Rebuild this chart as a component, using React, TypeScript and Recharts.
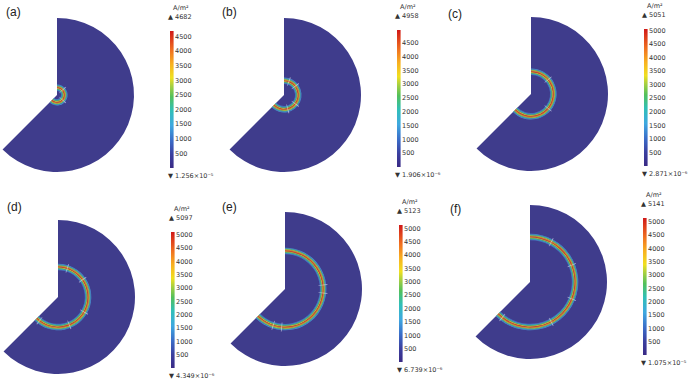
import { PieChart, Pie, BarChart, Bar, XAxis, YAxis } from "recharts"

// six snapshots of the current density front
const panelLabels = ["(a)", "(b)", "(c)", "(d)", "(e)", "(f)"]
const maxValues = [4682, 4958, 5051, 5097, 5123, 5141]
const minLabels = ["1.256×10⁻⁵", "1.906×10⁻⁶", "2.871×10⁻⁶", "4.349×10⁻⁶", "6.739×10⁻⁶", "1.075×10⁻⁵"]
const ticksLow = [500, 1000, 1500, 2000, 2500, 3000, 3500, 4000, 4500]
const ticksHigh = [500, 1000, 1500, 2000, 2500, 3000, 3500, 4000, 4500, 5000]
const barTicks = [ticksLow, ticksLow, ticksHigh, ticksHigh, ticksHigh, ticksHigh]
// front position as fraction of the domain radius
const frontRadius = [0.095, 0.185, 0.29, 0.39, 0.495, 0.585]
// mesh marks crossing the front (degrees)
const markAngles = [
  [42, -42],
  [38, -38, 70, -75],
  [40, -40],
  [72, 35, -30, -68, -128],
  [6, -6, -95, -108],
  [62, 22, -22, -62, -128],
]

const diskColor = "#3f3c8c"
const ringColors = ["#4a6fc0", "#37b5c8", "#5cc06a", "#d8d428", "#e8381c", "#f09020", "#b8d030", "#3cbfa8", "#4a8fd0"]
const cbStops: [number, string][] = [
  [0, "#3a2a85"],
  [0.1, "#3b40a0"],
  [0.2, "#3a6cc8"],
  [0.31, "#3fa8e0"],
  [0.42, "#30bfb8"],
  [0.52, "#52c05a"],
  [0.6, "#a8d040"],
  [0.66, "#f0e020"],
  [0.76, "#f8b020"],
  [0.86, "#f07020"],
  [1, "#d01818"],
]

const R = 77
const START = 90
const END = -135

const layout = [
  { lx: 6, ly: 13, cx: 57, cy: 95, bx: 170, bt: 31, bb: 168 },
  { lx: 222, ly: 13, cx: 284, cy: 95, bx: 397, bt: 30, bb: 167 },
  { lx: 448, ly: 15, cx: 531, cy: 94, bx: 644, bt: 29, bb: 166 },
  { lx: 7, ly: 208, cx: 58, cy: 297, bx: 171, bt: 232, bb: 368 },
  { lx: 222, ly: 208, cx: 285, cy: 289, bx: 399, bt: 225, bb: 362 },
  { lx: 450, ly: 210, cx: 530, cy: 282, bx: 643, bt: 218, bb: 355 },
]

const one = [{ v: 1 }]
const small = { fontFamily: "DejaVu Sans", fontSize: 6.5, color: "#333", lineHeight: 1, position: "absolute" as const, whiteSpace: "nowrap" as const }

function Colorbar({ i }: { i: number }) {
  const p = layout[i]
  const h = p.bb - p.bt
  return (
    <div style={{ position: "absolute", left: p.bx, top: p.bt - 5 }}>
      <BarChart width={34} height={h + 10} data={[{ name: "cb", v: maxValues[i] }]} margin={{ top: 5, right: 0, left: 0, bottom: 5 }} barCategoryGap={0}>
        <XAxis dataKey="name" hide />
        <YAxis
          orientation="right"
          width={30}
          domain={[0, maxValues[i]]}
          ticks={barTicks[i]}
          interval={0}
          tickLine={false}
          axisLine={false}
          tickSize={0}
          tickMargin={1}
          tick={{ fontSize: 6.5, fill: "#333", fontFamily: "DejaVu Sans" }}
        />
        <Bar dataKey="v" fill={`url(#cb${i})`} barSize={4} isAnimationActive={false} />
      </BarChart>
    </div>
  )
}

export default function App() {
  const pies: any[] = []
  layout.forEach((p, i) => {
    pies.push(
      <Pie key={`d${i}`} data={one} dataKey="v" cx={p.cx} cy={p.cy} innerRadius={0} outerRadius={R}
        startAngle={START} endAngle={END} fill={diskColor} stroke="none" isAnimationActive={false} />
    )
    const rr = frontRadius[i] * R
    const w = 0.72
    ringColors.forEach((c, k) => {
      const inner = rr + (k - ringColors.length / 2) * w
      pies.push(
        <Pie key={`r${i}-${k}`} data={one} dataKey="v" cx={p.cx} cy={p.cy} innerRadius={inner} outerRadius={inner + w}
          startAngle={START} endAngle={END} fill={c} stroke="none" isAnimationActive={false} />
      )
    })
    markAngles[i].forEach((a, k) => {
      const half = (0.4 / rr) * 57.3
      pies.push(
        <Pie key={`m${i}-${k}`} data={one} dataKey="v" cx={p.cx} cy={p.cy} innerRadius={Math.max(rr - 4.5, 0)} outerRadius={rr + 4.5}
          startAngle={a + half} endAngle={a - half} fill="rgba(225,225,240,0.6)" stroke="none" isAnimationActive={false} />
      )
    })
  })

  return (
    <div style={{ position: "absolute", left: 0, top: 0, width: 700, height: 382, background: "#fff", overflow: "hidden" }}>
      <svg width={0} height={0} style={{ position: "absolute" }}>
        <defs>
          {maxValues.map((_, i) => (
            <linearGradient key={i} id={`cb${i}`} x1="0" y1="1" x2="0" y2="0">
              {cbStops.map(([o, c]) => (
                <stop key={o} offset={o} stopColor={c} />
              ))}
            </linearGradient>
          ))}
        </defs>
      </svg>
      <div style={{ position: "absolute", left: 0, top: 0 }}>
        <PieChart width={700} height={382} margin={{ top: 0, right: 0, left: 0, bottom: 0 }}>
          {pies}
        </PieChart>
      </div>
      {layout.map((p, i) => (
        <div key={`t${i}`}>
          <div style={{ position: "absolute", left: p.lx, top: p.ly - 7, fontFamily: "Liberation Sans", fontSize: 12, lineHeight: 1, color: "#222" }}>
            {panelLabels[i]}
          </div>
          <div style={{ ...small, left: p.bx + 3, top: p.bt - 26 }}>
            A/m²
          </div>
          <div style={{ ...small, left: p.bx - 2, top: p.bt - 17 }}>
            ▲ {maxValues[i]}
          </div>
          <div style={{ ...small, left: p.bx - 2, top: p.bb + 5 }}>
            ▼ {minLabels[i]}
          </div>
          <Colorbar i={i} />
        </div>
      ))}
    </div>
  )
}
